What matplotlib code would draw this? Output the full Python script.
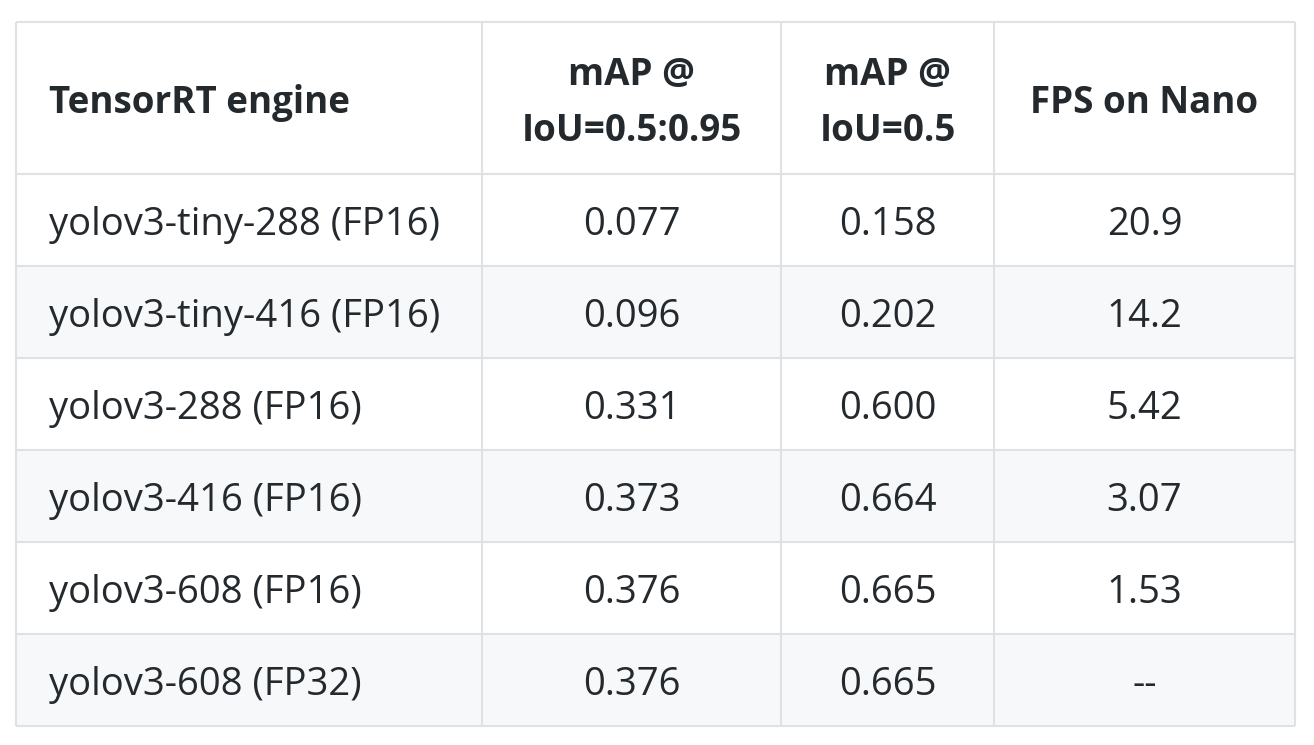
import matplotlib.pyplot as plt

headers = ['TensorRT engine', 'mAP @\nIoU=0.5:0.95', 'mAP @\nIoU=0.5', 'FPS on Nano']
engines = ['yolov3-tiny-288 (FP16)', 'yolov3-tiny-416 (FP16)', 'yolov3-288 (FP16)',
           'yolov3-416 (FP16)', 'yolov3-608 (FP16)', 'yolov3-608 (FP32)']
map_5095 = ['0.077', '0.096', '0.331', '0.373', '0.376', '0.376']
map_50 = ['0.158', '0.202', '0.600', '0.664', '0.665', '0.665']
fps_nano = ['20.9', '14.2', '5.42', '3.07', '1.53', '--']

# layout in pixels
col_edges = [16, 482, 781, 994, 1295]
top, head_bot, row_h = 22, 174, 92
border = '#dfe2e5'
stripe = '#f6f8fa'
txt = '#24292e'
font = 'Open Sans'

fig = plt.figure(figsize=(13.14, 7.45), dpi=100)
ax = fig.add_axes([0, 0, 1, 1])
ax.set_xlim(0, 1314)
ax.set_ylim(745, 0)
ax.axis('off')

columns = [engines, map_5095, map_50, fps_nano]
n = len(engines)
bottom = head_bot + n * row_h

for i in range(n):
    y0 = head_bot + i * row_h
    if i % 2 == 1:
        ax.fill_between([col_edges[0], col_edges[-1]], y0, y0 + row_h, color=stripe, lw=0)

row_lines = [top, head_bot] + [head_bot + (i + 1) * row_h for i in range(n)]
ax.hlines(row_lines, col_edges[0], col_edges[-1], color=border, lw=1.5)
ax.vlines(col_edges, top, bottom, color=border, lw=1.5)

fs = 27.5
hfs = 26.5
dy = 5
for j, h in enumerate(headers):
    cx = (col_edges[j] + col_edges[j + 1]) / 2
    yc = (top + head_bot) / 2 + dy
    if j == 0:
        ax.text(col_edges[0] + 33, yc, h, ha='left', va='center', fontsize=hfs,
                fontweight='bold', color=txt, family=font)
    else:
        ax.text(cx, yc, h, ha='center', va='center', fontsize=hfs, fontweight='bold',
                color=txt, family=font, linespacing=1.6)

for j, col in enumerate(columns):
    cx = (col_edges[j] + col_edges[j + 1]) / 2
    for i, val in enumerate(col):
        yc = head_bot + i * row_h + row_h / 2 + dy
        if j == 0:
            ax.text(col_edges[0] + 33, yc, val, ha='left', va='center', fontsize=fs,
                    color=txt, family=font)
        else:
            ax.text(cx, yc, val, ha='center', va='center', fontsize=fs,
                    color=txt, family=font)

fig.savefig('out.png', dpi=100)
